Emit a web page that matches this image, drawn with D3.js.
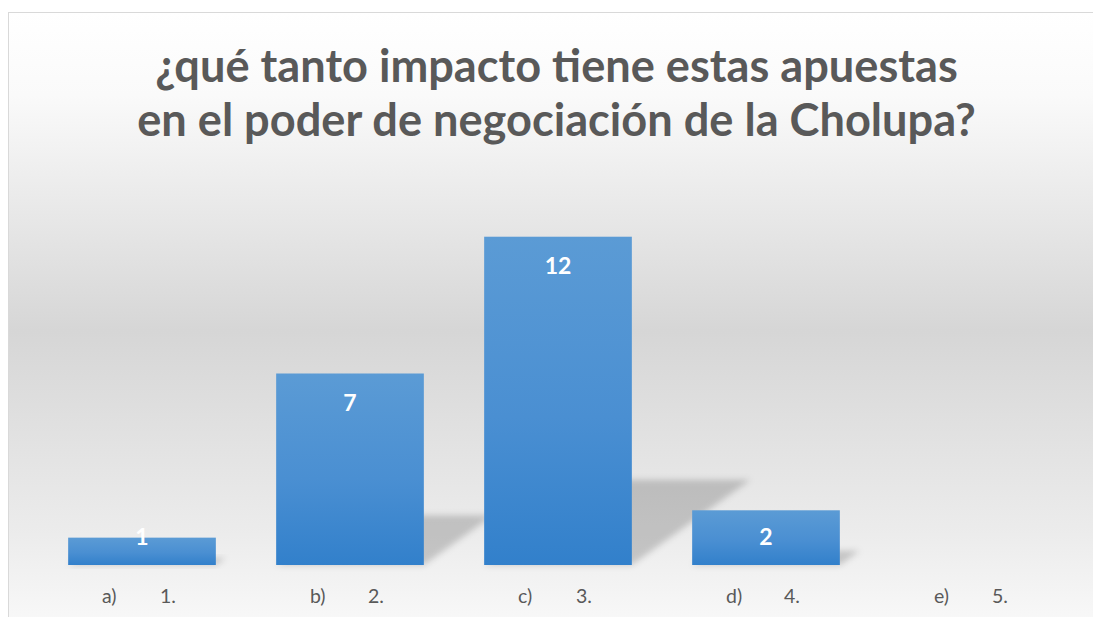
<!DOCTYPE html>
<html>
<head>
<meta charset="utf-8">
<script src="https://cdn.jsdelivr.net/npm/d3@7"></script>
<style>
  html, body { margin: 0; padding: 0; background: #fff; overflow: hidden; }
  svg { display: block; overflow: hidden; }
  text { font-family: Lato, "Open Sans", sans-serif; }
</style>
</head>
<body>
<div id="chart"></div>
<script>
// chart values
var titleLines = ['¿qué tanto impacto tiene estas apuestas', 'en el poder de negociación de la Cholupa?'];
var letters = ['a)', 'b)', 'c)', 'd)', 'e)'];
var options = ['1.', '2.', '3.', '4.', '5.'];
var counts = [1, 7, 12, 2, 0];

var width = 1093,
    height = 617,
    margin = { top: 182, right: 15, bottom: 52, left: 38 },
    baseY = height - margin.bottom;

var svg = d3.select('#chart').append('svg')
  .attr('width', width)
  .attr('height', height);

var defs = svg.append('defs');

var bg = defs.append('linearGradient').attr('id', 'bg')
  .attr('x1', 0).attr('y1', 0).attr('x2', 0).attr('y2', 1);
[[0, '#ffffff'], [0.13, '#fafafa'], [0.5, '#d6d6d6'], [0.82, '#ececec'], [1, '#fcfcfc']].forEach(function (s) {
  bg.append('stop').attr('offset', s[0]).attr('stop-color', s[1]);
});

var barFill = defs.append('linearGradient').attr('id', 'barFill')
  .attr('x1', 0).attr('y1', 0).attr('x2', 0).attr('y2', 1);
barFill.append('stop').attr('offset', 0).attr('stop-color', '#5b9bd5');
barFill.append('stop').attr('offset', 0.55).attr('stop-color', '#4a8fd2');
barFill.append('stop').attr('offset', 1).attr('stop-color', '#3280cb');

defs.append('filter').attr('id', 'soft')
  .attr('x', '-30%').attr('y', '-50%').attr('width', '160%').attr('height', '200%')
  .append('feGaussianBlur').attr('stdDeviation', 3);

// chart area background and frame (right and bottom edges run off the page)
svg.append('rect')
  .attr('x', 8.5).attr('y', 12.5)
  .attr('width', width + 20).attr('height', height + 20)
  .attr('fill', 'url(#bg)')
  .attr('stroke', '#d9d9d9')
  .attr('stroke-width', 1);

// title
var title = svg.append('g').attr('class', 'title');
title.selectAll('text').data(titleLines).enter().append('text')
  .attr('x', width / 2 + 10)
  .attr('y', function (d, i) { return 82 + i * 54; })
  .attr('text-anchor', 'middle')
  .attr('fill', '#595959')
  .style('font-weight', 700)
  .style('font-size', '40px')
  .text(function (d) { return d; });

// fit first line to the measured width of the original
var firstLen = title.select('text').node().getComputedTextLength();
var titleSize = 40 * 803 / firstLen;
title.selectAll('text').style('font-size', titleSize + 'px');

var x = d3.scaleBand()
  .domain(letters)
  .range([margin.left, width - margin.right])
  .paddingInner(0.29)
  .paddingOuter(0.145);

var y = d3.scaleLinear()
  .domain([0, 14])
  .range([baseY, margin.top]);

var data = letters.map(function (l, i) {
  return { letter: l, option: options[i], value: counts[i] };
});

// cast shadows
svg.append('g').selectAll('path').data(data.filter(function (d) { return d.value > 0; })).enter().append('path')
  .attr('d', function (d) {
    var h = baseY - y(d.value),
        dy = h * 0.26,
        dx = dy * 1.39,
        x0 = x(d.letter),
        x1 = x0 + x.bandwidth();
    return 'M' + x0 + ',' + baseY + 'L' + x1 + ',' + baseY +
      'L' + (x1 + dx) + ',' + (baseY - dy) + 'L' + (x0 + dx) + ',' + (baseY - dy) + 'Z';
  })
  .attr('fill', '#000')
  .attr('fill-opacity', 0.18)
  .attr('filter', 'url(#soft)');

// bars
svg.append('g').selectAll('rect').data(data).enter().append('rect')
  .attr('x', function (d) { return x(d.letter); })
  .attr('y', function (d) { return y(d.value); })
  .attr('width', x.bandwidth())
  .attr('height', function (d) { return baseY - y(d.value); })
  .attr('fill', 'url(#barFill)');

// value labels, inside end
svg.append('g').selectAll('text').data(data.filter(function (d) { return d.value > 0; })).enter().append('text')
  .attr('x', function (d) { return x(d.letter) + x.bandwidth() / 2; })
  .attr('y', function (d) {
    var h = baseY - y(d.value);
    return y(d.value) + Math.min(29, h - 28);
  })
  .attr('dy', '0.36em')
  .attr('text-anchor', 'middle')
  .attr('fill', '#ffffff')
  .style('font-weight', 700)
  .style('font-size', '23px')
  .text(function (d) { return d.value; });

// category labels
var cats = svg.append('g').selectAll('g').data(data).enter().append('g')
  .attr('transform', function (d) { return 'translate(' + (x(d.letter) + x.bandwidth() / 2) + ',' + 603 + ')'; });
cats.append('text')
  .attr('x', -40)
  .attr('fill', '#595959')
  .style('font-size', '19.5px')
  .text(function (d) { return d.letter; });
cats.append('text')
  .attr('x', 18)
  .attr('fill', '#595959')
  .style('font-size', '19.5px')
  .text(function (d) { return d.option; });
</script>
</body>
</html>
